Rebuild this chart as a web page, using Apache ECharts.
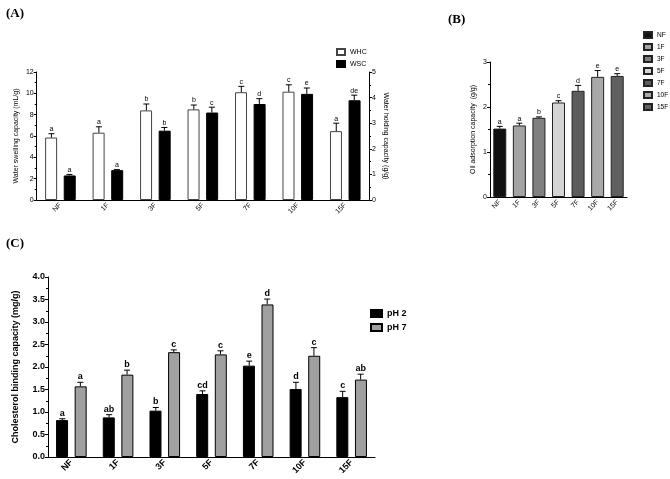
<!DOCTYPE html>
<html>
<head>
<meta charset="utf-8">
<script src="https://cdn.jsdelivr.net/npm/echarts@6/dist/echarts.min.js"></script>
<style>
html,body{margin:0;padding:0;background:#fff;}
#chart{width:670px;height:479px;}
</style>
</head>
<body>
<div id="chart"></div>
<script>
var cats = ['NF', '1F', '3F', '5F', '7F', '10F', '15F'];

// (A) WHC on right axis (g/g), WSC on left axis (mL/g)
var whc        = [2.44, 2.63, 3.50, 3.54, 4.21, 4.23, 2.69];
var whcErr     = [0.15, 0.23, 0.25, 0.17, 0.23, 0.27, 0.31];
var whcLetters = ['a', 'a', 'b', 'b', 'c', 'c', 'a'];
var wsc        = [2.3, 2.8, 6.5, 8.2, 9.0, 9.95, 9.35];
var wscErr     = [0.1, 0.05, 0.3, 0.5, 0.5, 0.55, 0.48];
var wscLetters = ['a', 'a', 'b', 'c', 'd', 'e', 'de'];

// (B) oil adsorption capacity
var oac        = [1.52, 1.59, 1.76, 2.10, 2.36, 2.67, 2.69];
var oacErr     = [0.05, 0.05, 0.02, 0.04, 0.12, 0.14, 0.05];
var oacLetters = ['a', 'a', 'b', 'c', 'd', 'e', 'e'];

// (C) cholesterol binding capacity
var ph2        = [0.82, 0.88, 1.03, 1.40, 2.03, 1.51, 1.33];
var ph2Err     = [0.03, 0.06, 0.07, 0.07, 0.10, 0.15, 0.13];
var ph2Letters = ['a', 'ab', 'b', 'cd', 'e', 'd', 'c'];
var ph7        = [1.57, 1.83, 2.33, 2.28, 3.39, 2.25, 1.72];
var ph7Err     = [0.09, 0.10, 0.05, 0.08, 0.12, 0.18, 0.12];
var ph7Letters = ['a', 'b', 'c', 'c', 'd', 'c', 'ab'];

var oacColors = ['#111111', '#a3a3a3', '#808080', '#d4d4d4', '#5c5c5c', '#a8a8a8', '#606060'];

var FONT = '"Liberation Sans", Arial, sans-serif';

var chart = echarts.init(document.getElementById('chart'));

// error bar + letter above bar
function errorSeries(xi, yi, vals, errs, letters, offset, fontSize, bold) {
    return {
        type: 'custom',
        xAxisIndex: xi,
        yAxisIndex: yi,
        z: 5,
        silent: true,
        data: vals.map(function (v, i) { return [i, v, errs[i]]; }),
        encode: {x: 0, y: 1},
        renderItem: function (params, api) {
            var base = api.coord([api.value(0), api.value(1)]);
            var top = api.coord([api.value(0), api.value(1) + api.value(2)]);
            var x = base[0] + offset;
            return {
                type: 'group',
                children: [
                    {type: 'line', shape: {x1: x, y1: base[1], x2: x, y2: top[1]}, style: {stroke: '#000', lineWidth: 1}},
                    {type: 'line', shape: {x1: x - 3, y1: top[1], x2: x + 3, y2: top[1]}, style: {stroke: '#000', lineWidth: 1}},
                    {type: 'text', x: x, y: top[1] - 1, style: {
                        text: letters[params.dataIndex], align: 'center', verticalAlign: 'bottom',
                        fontSize: fontSize, fontWeight: bold ? 'bold' : 'normal', fontFamily: FONT, fill: '#000'
                    }}
                ]
            };
        }
    };
}

function catAxis(gi, fs, bold) {
    return {
        type: 'category', gridIndex: gi, data: cats,
        axisLine: {lineStyle: {color: '#000', width: 1}},
        axisTick: {alignWithLabel: true, length: 3, lineStyle: {color: '#000'}},
        axisLabel: {rotate: 45, fontSize: fs, fontWeight: bold ? 'bold' : 'normal', color: '#000', fontFamily: FONT, margin: 4, interval: 0}
    };
}

function valAxis(gi, max, interval, name, fs, bold, extra) {
    var ax = {
        type: 'value', gridIndex: gi, min: 0, max: max, interval: interval,
        name: name, nameLocation: 'middle',
        nameTextStyle: {fontSize: fs, fontWeight: bold ? 'bold' : 'normal', color: '#000', fontFamily: FONT},
        axisLine: {show: true, lineStyle: {color: '#000', width: 1}},
        axisTick: {show: true, length: 3, lineStyle: {color: '#000'}},
        minorTick: {show: true, splitNumber: 2, length: 2, lineStyle: {color: '#000'}},
        splitLine: {show: false},
        axisLabel: {fontSize: fs, fontWeight: bold ? 'bold' : 'normal', color: '#000', fontFamily: FONT, margin: 3}
    };
    for (var k in extra) ax[k] = extra[k];
    return ax;
}

var series = [];

// (A)
series.push({
    name: 'WHC', type: 'bar', xAxisIndex: 0, yAxisIndex: 1, data: whc,
    barWidth: 12, barGap: '55%',
    itemStyle: {color: '#ffffff', borderColor: '#444', borderWidth: 1}
});
series.push({
    name: 'WSC', type: 'bar', xAxisIndex: 0, yAxisIndex: 0, data: wsc,
    barWidth: 12, barGap: '55%',
    itemStyle: {color: '#000000', borderColor: '#000', borderWidth: 1}
});
series.push(errorSeries(0, 1, whc, whcErr, whcLetters, -9, 7, false));
series.push(errorSeries(0, 0, wsc, wscErr, wscLetters, 9, 7, false));

// (B) one series per sample so each gets its own legend entry
cats.forEach(function (c, i) {
    var d = cats.map(function (_, j) { return j === i ? oac[j] : '-'; });
    series.push({
        name: c, type: 'bar', xAxisIndex: 1, yAxisIndex: 2, data: d,
        barWidth: 13, barGap: '-100%',
        itemStyle: {color: oacColors[i], borderColor: '#222', borderWidth: 1}
    });
});
series.push(errorSeries(1, 2, oac, oacErr, oacLetters, 0, 7, false));

// (C)
series.push({
    name: 'pH 2', type: 'bar', xAxisIndex: 2, yAxisIndex: 3, data: ph2,
    barWidth: 12, barGap: '55%',
    itemStyle: {color: '#000000', borderColor: '#000', borderWidth: 1}
});
series.push({
    name: 'pH 7', type: 'bar', xAxisIndex: 2, yAxisIndex: 3, data: ph7,
    barWidth: 12, barGap: '55%',
    itemStyle: {color: '#a0a0a0', borderColor: '#000', borderWidth: 1}
});
series.push(errorSeries(2, 3, ph2, ph2Err, ph2Letters, -9, 9, true));
series.push(errorSeries(2, 3, ph7, ph7Err, ph7Letters, 9, 9, true));

var titleStyle = {fontSize: 13, fontWeight: 'bold', color: '#000', fontFamily: '"Liberation Serif", "Times New Roman", serif'};

var option = {
    animation: false,
    backgroundColor: '#fff',
    title: [
        {text: '(A)', left: 1, top: 2, textStyle: titleStyle},
        {text: '(B)', left: 443, top: 8, textStyle: titleStyle},
        {text: '(C)', left: 1, top: 232, textStyle: titleStyle}
    ],
    legend: [
        {
            data: ['WHC', 'WSC'], orient: 'vertical', left: 331, top: 43,
            icon: 'rect', itemWidth: 8, itemHeight: 6, itemGap: 4,
            textStyle: {fontSize: 7, color: '#000', fontFamily: FONT}
        },
        {
            data: cats, orient: 'vertical', left: 643, top: 31,
            icon: 'rect', itemWidth: 8, itemHeight: 6, itemGap: 4, padding: 0,
            textStyle: {fontSize: 6.5, color: '#000', fontFamily: FONT}
        },
        {
            data: ['pH 2', 'pH 7'], orient: 'vertical', left: 365, top: 304,
            icon: 'rect', itemWidth: 11, itemHeight: 7, itemGap: 5,
            textStyle: {fontSize: 9, fontWeight: 'bold', color: '#000', fontFamily: FONT}
        }
    ],
    grid: [
        {left: 30, top: 72, width: 339, height: 128},
        {left: 490, top: 62, width: 137, height: 135},
        {left: 48, top: 277, width: 327, height: 180}
    ],
    xAxis: [catAxis(0, 7, false), catAxis(1, 7, false), catAxis(2, 9, true)],
    yAxis: [
        valAxis(0, 12, 2, 'Water swelling capacity (mL/g)', 7, false, {nameGap: 17}),
        valAxis(0, 5, 1, 'Water holding capacity (g/g)', 7, false, {position: 'right', nameGap: 13, nameRotate: -90}),
        valAxis(1, 3, 1, 'Oil adsorption capacity  (g/g)', 7, false, {nameGap: 13}),
        valAxis(2, 4, 0.5, 'Cholesterol binding capacity (mg/g)', 9, true, {nameGap: 28})
    ],
    series: series
};
option.yAxis[3].axisLabel.formatter = function (v) { return v.toFixed(1); };

chart.setOption(option);
</script>
</body>
</html>
